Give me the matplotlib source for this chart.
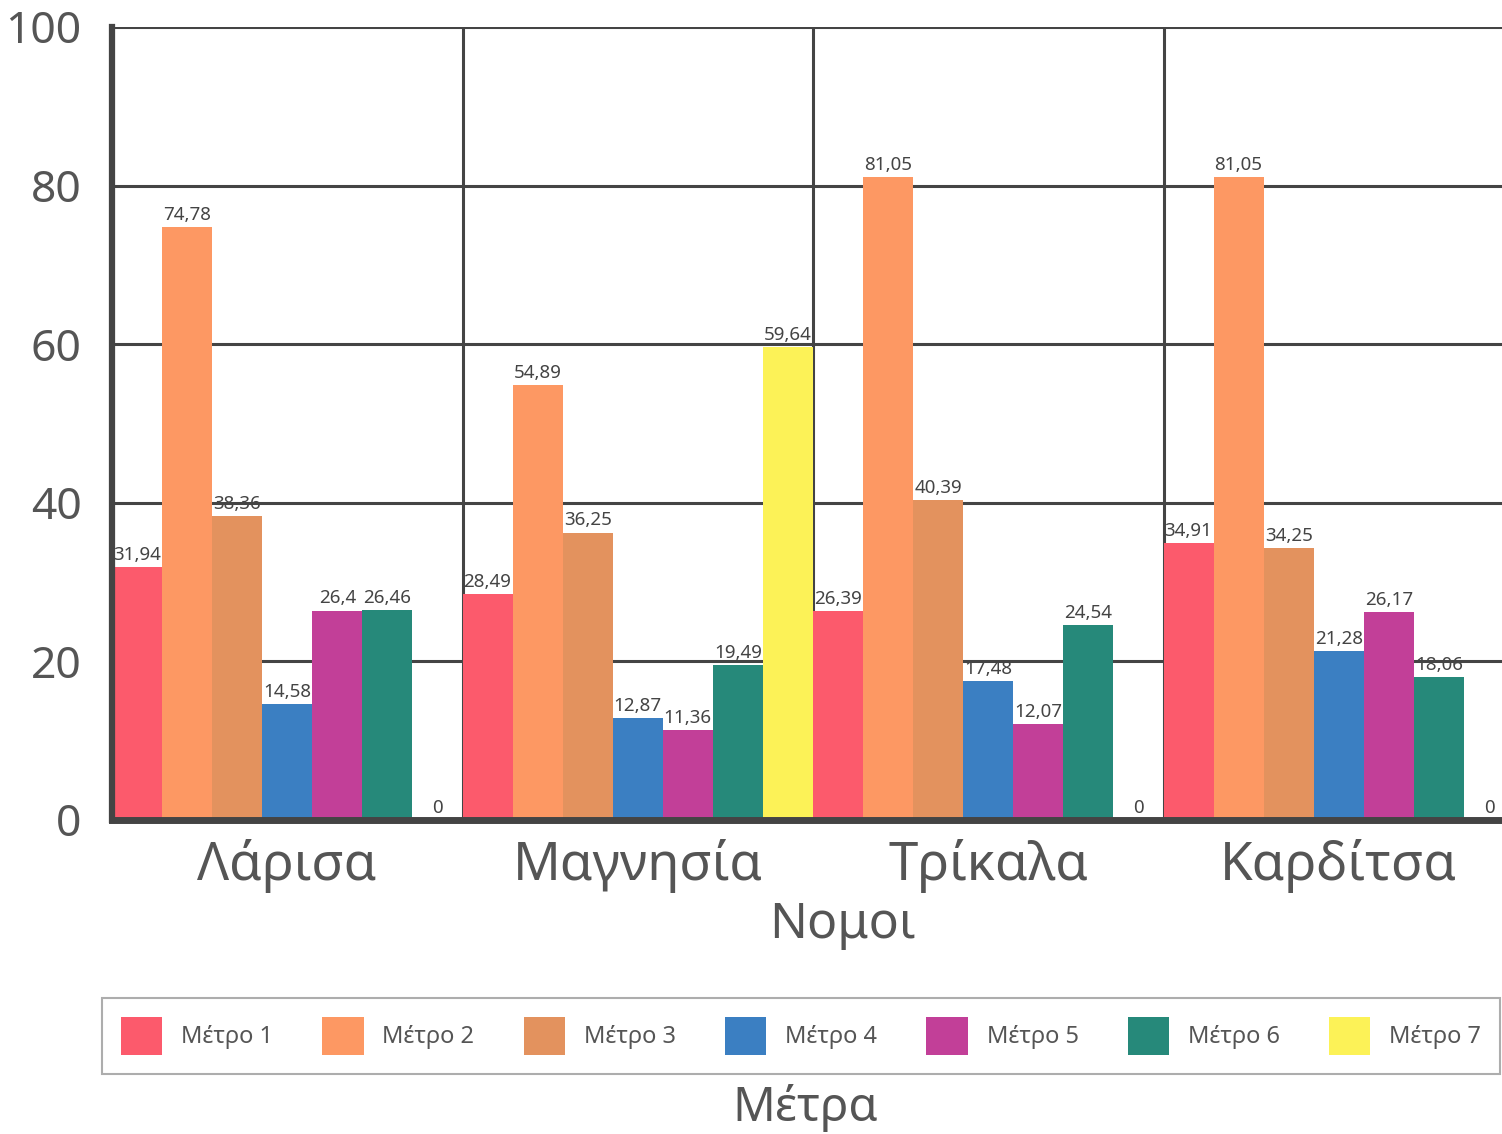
import numpy as np
import matplotlib.pyplot as plt
from matplotlib.patches import Patch

plt.rcParams['font.family'] = ['Noto Sans', 'DejaVu Sans']

# Δεδομένα
nomoi = ['Λάρισα', 'Μαγνησία', 'Τρίκαλα', 'Καρδίτσα']
metra = ['Μέτρο 1', 'Μέτρο 2', 'Μέτρο 3', 'Μέτρο 4', 'Μέτρο 5', 'Μέτρο 6', 'Μέτρο 7']
larisa = [31.94, 74.78, 38.36, 14.58, 26.4, 26.46, 0]
magnisia = [28.49, 54.89, 36.25, 12.87, 11.36, 19.49, 59.64]
trikala = [26.39, 81.05, 40.39, 17.48, 12.07, 24.54, 0]
karditsa = [34.91, 81.05, 34.25, 21.28, 26.17, 18.06, 0]
colors = ['#fc5a6c', '#fd9863', '#e3925e', '#3b7fc2', '#c23f98', '#26897a', '#fcf257']

values = np.array([larisa, magnisia, trikala, karditsa])
n_groups, n_bars = values.shape

text_col = '#555555'
line_col = '#444444'

fig = plt.figure(figsize=(15.02, 11.34), dpi=100)
ax = fig.add_axes([112 / 1502, 1 - 820 / 1134, (1514 - 112) / 1502, (820 - 27) / 1134])

for j in range(n_bars):
    x = np.arange(n_groups) * n_bars + j + 0.5
    ax.bar(x, values[:, j], width=1.0, color=colors[j], zorder=2)
    for xi, v in zip(x, values[:, j]):
        lbl = f'{v:g}'.replace('.', ',')
        ax.text(xi, v + 0.4, lbl, ha='center', va='bottom', fontsize=13.5,
                color='#444444', zorder=4)

ax.set_xlim(0, n_groups * n_bars)
ax.set_ylim(0, 100)

# γραμμές πλέγματος
for y in [20, 40, 60, 80, 100]:
    ax.axhline(y, color=line_col, lw=2.2, zorder=1)
for g in range(1, n_groups + 1):
    ax.axvline(g * n_bars, color=line_col, lw=2.2, zorder=1)

for s in ['top', 'right']:
    ax.spines[s].set_visible(False)
ax.spines['left'].set_linewidth(4.5)
ax.spines['left'].set_color(line_col)
ax.spines['bottom'].set_linewidth(5)
ax.spines['bottom'].set_color(line_col)
ax.spines['bottom'].set_zorder(5)

ax.set_yticks([0, 20, 40, 60, 80, 100])
ax.tick_params(axis='y', length=0, pad=22, labelsize=32, labelcolor=text_col)
ax.set_xticks(np.arange(n_groups) * n_bars + n_bars / 2)
ax.set_xticklabels(nomoi)
ax.tick_params(axis='x', length=0, pad=14, labelsize=38, labelcolor=text_col)

fig.text(842 / 1502, 1 - 925 / 1134, 'Νομοι', ha='center', va='center',
         fontsize=36, color=text_col)

handles = [Patch(facecolor=c, edgecolor='none') for c in colors]
leg = fig.legend(handles, metra, loc='center left', ncol=7, mode='expand',
                 bbox_to_anchor=(102 / 1502, 1 - 1077 / 1134, (1500 - 102) / 1502, (1077 - 995) / 1134),
                 fontsize=17, frameon=True, fancybox=False, handlelength=1.75,
                 handleheight=2.1, handletextpad=0.8, borderaxespad=0,
                 borderpad=0.8, columnspacing=0.8, labelcolor=text_col)
leg.get_frame().set_edgecolor('#999999')
leg.get_frame().set_linewidth(1.5)

fig.text(805 / 1502, 1 - 1108 / 1134, 'Μέτρα', ha='center', va='center',
         fontsize=34, color=text_col)

fig.savefig('out.png', dpi=100, facecolor='white')
